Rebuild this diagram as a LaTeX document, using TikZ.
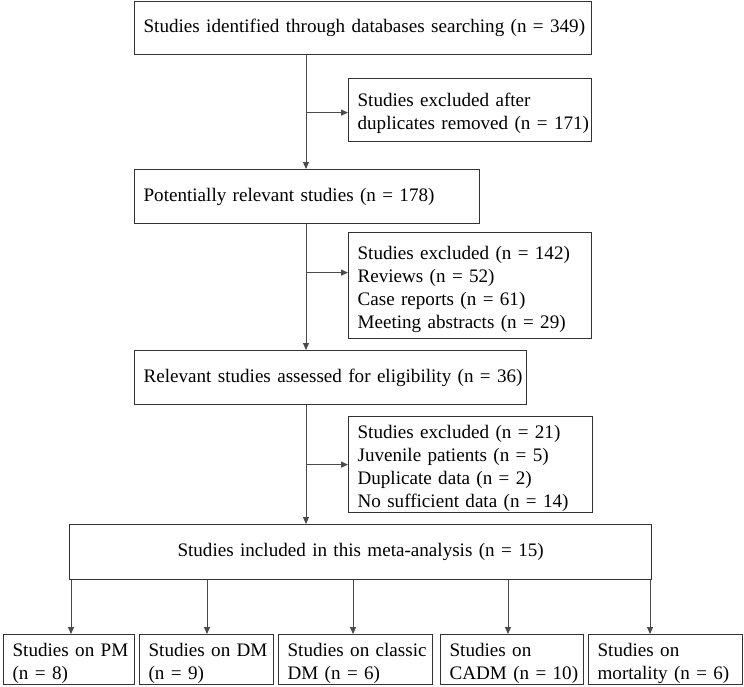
\documentclass[tikz,border=0pt]{standalone}
\usepackage{fontspec}
\setmainfont{Liberation Serif}
\usetikzlibrary{arrows.meta}
\definecolor{boxline}{HTML}{333333}
\definecolor{conline}{HTML}{4A4A4A}
\newcommand{\oneline}[1]{\mbox{#1}}
\newcommand{\topstrut}{\rule{0pt}{20.5pt}}
\begin{document}
\begin{tikzpicture}[x=1pt,y=-1pt,
  box/.style={draw=boxline, line width=1.2pt, anchor=north west, inner xsep=9pt, inner ysep=0pt,
    align=left, font=\fontsize{19.1}{23}\selectfont, text=black},
  cbox/.style={box, align=center},
  arr/.style={draw=conline, line width=0.9pt, -{Triangle[length=7pt,width=6pt]}}]
\useasboundingbox (0,0) rectangle (744,686);
% boxes
\node[box, minimum width=457pt, minimum height=53pt, text width=439pt] (b1) at (134,1)
  {\oneline{Studies identified through databases searching (n = 349)}};
\node[box, minimum width=243pt, minimum height=63pt, text width=225pt] (b2) at (348,78)
  {\topstrut\oneline{Studies excluded after}\\\oneline{duplicates removed (n = 171)}};
\node[box, minimum width=345pt, minimum height=54pt, text width=327pt] (b3) at (134,169)
  {\oneline{Potentially relevant studies (n = 178)}};
\node[box, minimum width=243pt, minimum height=106pt, text width=225pt] (b4) at (348,232)
  {\topstrut\oneline{Studies excluded (n = 142)}\\\oneline{Reviews (n = 52)}\\\oneline{Case reports (n = 61)}\\\oneline{Meeting abstracts (n = 29)}};
\node[box, minimum width=392pt, minimum height=54pt, text width=374pt] (b5) at (134,350)
  {\oneline{Relevant studies assessed for eligibility (n = 36)}};
\node[box, minimum width=244pt, minimum height=96pt, text width=226pt] (b6) at (348,416)
  {\topstrut\oneline{Studies excluded (n = 21)}\\\oneline{Juvenile patients (n = 5)}\\\oneline{Duplicate data (n = 2)}\\\oneline{No sufficient data (n = 14)}};
\node[cbox, minimum width=582pt, minimum height=55pt, text width=564pt] (b7) at (69,524)
  {Studies included in this meta-analysis (n = 15)};
\node[box, minimum width=131pt, minimum height=50pt, text width=113pt] (pA) at (3,634)
  {\topstrut\oneline{Studies on PM}\\\oneline{(n = 8)}};
\node[box, minimum width=134pt, minimum height=50pt, text width=116pt] (pB) at (139,634)
  {\topstrut\oneline{Studies on DM}\\\oneline{(n = 9)}};
\node[box, minimum width=154pt, minimum height=50pt, text width=136pt] (pC) at (278,634)
  {\topstrut\oneline{Studies on classic}\\\oneline{DM (n = 6)}};
\node[box, minimum width=143pt, minimum height=50pt, text width=125pt] (pD) at (440,634)
  {\topstrut\oneline{Studies on}\\\oneline{CADM (n = 10)}};
\node[box, minimum width=154pt, minimum height=50pt, text width=136pt] (pE) at (588,634)
  {\topstrut\oneline{Studies on}\\\oneline{mortality (n = 6)}};
% guide coordinates
\coordinate (m) at (306,0);
\coordinate (a1) at (71,0);
\coordinate (a2) at (207,0);
\coordinate (a3) at (353,0);
\coordinate (a4) at (508,0);
\coordinate (a5) at (650,0);
% main flow
\draw[arr] (b1.south -| m) -- (b3.north -| m);
\draw[arr] ([yshift=-2.5pt]b2.west -| m) -- ([yshift=-2.5pt]b2.west);
\draw[arr] (b3.south -| m) -- (b5.north -| m);
\draw[arr] ([yshift=13pt]b4.west -| m) -- ([yshift=13pt]b4.west);
\draw[arr] (b5.south -| m) -- (b7.north -| m);
\draw[arr] (b6.west -| m) -- (b6.west);
% bottom arrows
\draw[arr] (b7.south -| a1) -- (pA.north -| a1);
\draw[arr] (b7.south -| a2) -- (pB.north -| a2);
\draw[arr] (b7.south -| a3) -- (pC.north -| a3);
\draw[arr] (b7.south -| a4) -- (pD.north -| a4);
\draw[arr] (b7.south -| a5) -- (pE.north -| a5);
\end{tikzpicture}
\end{document}
